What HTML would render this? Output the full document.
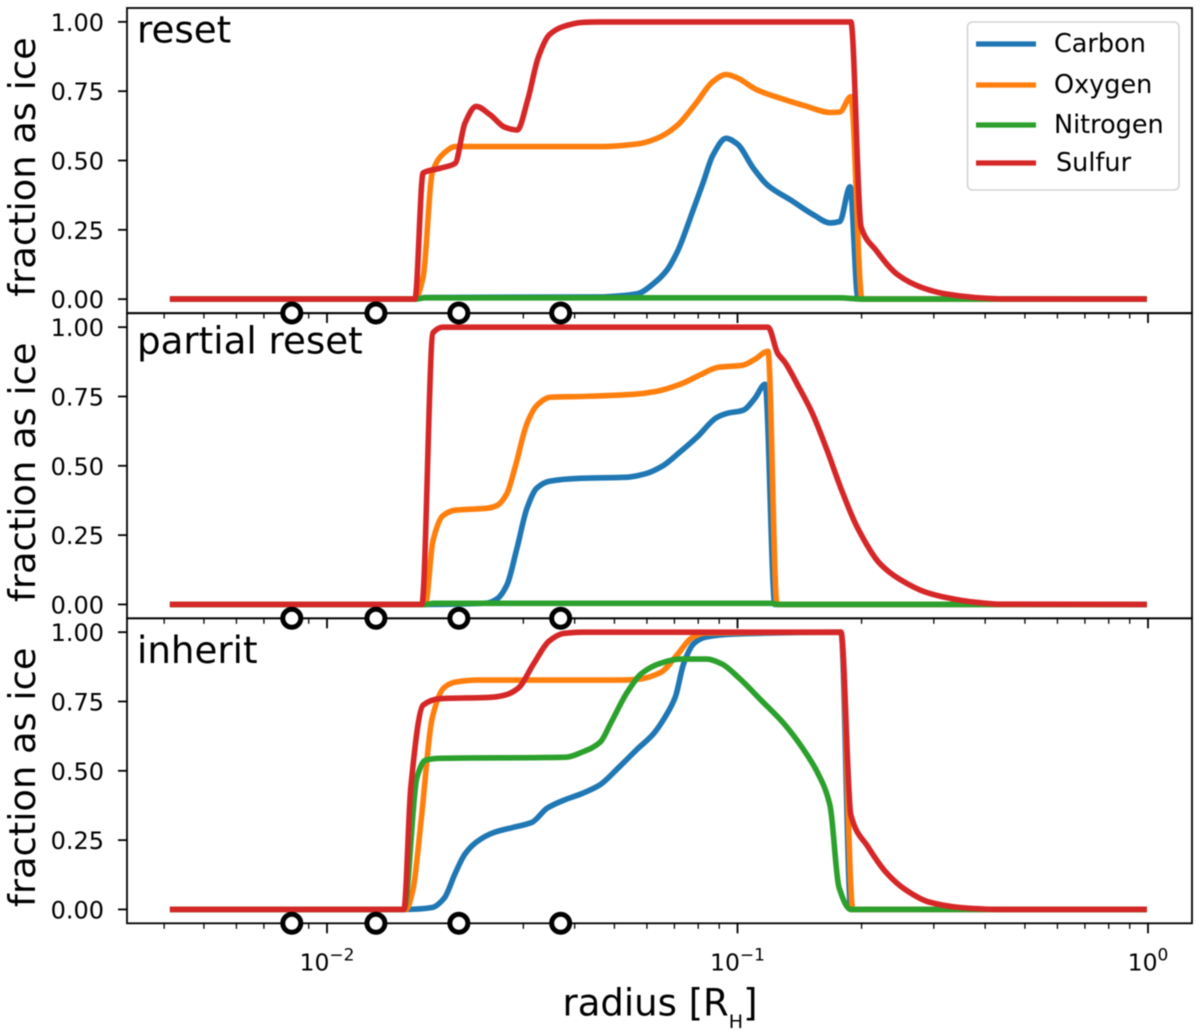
<!DOCTYPE html>
<html lang="en">
<head>
<meta charset="utf-8">
<title>Fraction as ice vs radius</title>
<style>
html,body{margin:0;padding:0;background:#fff;}
svg{display:block;filter:blur(0.45px);}
text{font-family:"DejaVu Sans","Liberation Sans",sans-serif;fill:#000;}
</style>
</head>
<body>
<svg id="chart" xmlns="http://www.w3.org/2000/svg" width="1200" height="1034" viewBox="0 0 1200 1034"></svg>
<script>
// x values are log10(radius / R_H); y values are the fraction as ice.
const panelNames = ['reset', 'partial reset', 'inherit'];
const seriesNames = ['Carbon', 'Oxygen', 'Nitrogen', 'Sulfur'];
const seriesColors = ['#1f77b4', '#ff7f0e', '#2ca02c', '#d62728'];
const yTickValues = [0, 0.25, 0.5, 0.75, 1];
const yTickLabels = ['0.00', '0.25', '0.50', '0.75', '1.00'];
const xDecades = [-2, -1, 0];
const xDecadeLabels = ['\u22122', '\u22121', '0'];
const markerLogRadius = [-2.087, -1.882, -1.680, -1.432];
const markerValue = -0.05;

const resetCarbonX = [-2.384,-1.787,-1.762,-1.336,-1.287,-1.244,-1.205,-1.173,-1.146,-1.112,-1.085,-1.061,-1.029,-1.002,-0.963,-0.927,-0.871,-0.815,-0.776,-0.752,-0.727,-0.708,-0.698,-0.004];
const resetCarbonY = [0,0,0.006,0.008,0.012,0.02,0.057,0.105,0.177,0.31,0.42,0.52,0.58,0.56,0.473,0.41,0.357,0.303,0.275,0.28,0.405,0.005,0,0];
const resetOxygenX = [-2.384,-1.787,-1.767,-1.745,-1.716,-1.689,-1.336,-1.244,-1.197,-1.149,-1.102,-1.061,-1.029,-1.005,-0.954,-0.898,-0.832,-0.776,-0.752,-0.725,-0.698,-0.004];
const resetOxygenY = [0,0,0.08,0.455,0.527,0.55,0.55,0.56,0.58,0.625,0.707,0.785,0.81,0.80,0.755,0.725,0.695,0.673,0.675,0.73,0,0];
const resetNitrogenX = [-2.384,-1.787,-1.762,-0.752,-0.698,-0.004];
const resetNitrogenY = [0,0,0.005,0.005,0,0];
const resetSulfurX = [-2.384,-1.787,-1.767,-1.726,-1.689,-1.665,-1.638,-1.604,-1.568,-1.538,-1.512,-1.487,-1.460,-1.426,-1.380,-1.336,-0.725,-0.700,-0.664,-0.610,-0.554,-0.498,-0.423,-0.357,-0.004];
const resetSulfurY = [0,0,0.455,0.472,0.49,0.635,0.695,0.665,0.62,0.61,0.72,0.87,0.953,0.983,0.998,1,1,0.26,0.177,0.087,0.043,0.02,0.006,0.001,0];

const partialCarbonX = [-2.384,-1.762,-1.611,-1.587,-1.563,-1.538,-1.514,-1.490,-1.458,-1.385,-1.270,-1.222,-1.183,-1.141,-1.100,-1.051,-1.024,-0.988,-0.959,-0.934,-0.910,-0.004];
const partialCarbonY = [0,0,0.005,0.02,0.07,0.206,0.347,0.42,0.445,0.455,0.459,0.473,0.50,0.55,0.603,0.675,0.69,0.70,0.743,0.794,0,0];
const partialOxygenX = [-2.384,-1.762,-1.743,-1.719,-1.689,-1.611,-1.587,-1.563,-1.543,-1.514,-1.490,-1.458,-1.385,-1.256,-1.197,-1.141,-1.093,-1.049,-0.988,-0.959,-0.927,-0.905,-0.004];
const partialOxygenY = [0,0,0.23,0.32,0.34,0.347,0.357,0.40,0.495,0.653,0.718,0.747,0.75,0.758,0.769,0.794,0.827,0.855,0.863,0.884,0.913,0,0];
const partialNitrogenX = [-2.384,-1.762,-1.74,-0.92,-0.90,-0.004];
const partialNitrogenY = [0,0,0.004,0.004,0,0];
const partialSulfurX = [-2.384,-1.770,-1.743,-1.719,-0.927,-0.903,-0.886,-0.854,-0.820,-0.783,-0.747,-0.710,-0.654,-0.605,-0.544,-0.484,-0.423,-0.362,-0.004];
const partialSulfurY = [0,0,0.98,1,1,0.905,0.874,0.79,0.693,0.556,0.41,0.28,0.147,0.09,0.045,0.022,0.008,0.001,0];

const inheritCarbonX = [-2.384,-1.809,-1.745,-1.716,-1.689,-1.665,-1.638,-1.594,-1.548,-1.502,-1.465,-1.426,-1.380,-1.336,-1.290,-1.244,-1.205,-1.178,-1.153,-1.132,-1.107,-1.080,-1.010,-0.749,-0.725,-0.004];
const inheritCarbonY = [0,0,0.007,0.04,0.13,0.20,0.242,0.278,0.296,0.314,0.365,0.393,0.418,0.45,0.513,0.58,0.635,0.693,0.765,0.888,0.96,0.982,0.993,1,0,0];
const inheritOxygenX = [-2.384,-1.809,-1.792,-1.772,-1.745,-1.716,-1.689,-1.633,-1.290,-1.244,-1.188,-1.149,-1.112,-1.080,-0.749,-0.720,-0.004];
const inheritOxygenY = [0,0,0.07,0.32,0.69,0.80,0.82,0.827,0.827,0.83,0.855,0.917,0.98,0.997,1,0,0];
const inheritNitrogenX = [-2.384,-1.814,-1.782,-1.762,-1.726,-1.419,-1.380,-1.336,-1.309,-1.270,-1.234,-1.188,-1.141,-1.076,-1.039,-1,-0.944,-0.888,-0.842,-0.805,-0.776,-0.754,-0.725,-0.004];
const inheritNitrogenY = [0,0,0.477,0.538,0.545,0.549,0.567,0.603,0.675,0.783,0.852,0.888,0.903,0.903,0.885,0.838,0.755,0.67,0.58,0.49,0.375,0.08,0,0];
const inheritSulfurX = [-2.384,-1.814,-1.797,-1.767,-1.726,-1.604,-1.568,-1.536,-1.497,-1.460,-1.426,-1.380,-0.749,-0.725,-0.683,-0.637,-0.591,-0.535,-0.459,-0.367,-0.004];
const inheritSulfurY = [0,0,0.44,0.737,0.76,0.765,0.773,0.797,0.888,0.968,0.995,1,1,0.34,0.225,0.13,0.07,0.027,0.007,0,0];

const panelSeriesX = [
  [resetCarbonX, resetOxygenX, resetNitrogenX, resetSulfurX],
  [partialCarbonX, partialOxygenX, partialNitrogenX, partialSulfurX],
  [inheritCarbonX, inheritOxygenX, inheritNitrogenX, inheritSulfurX]
];
const panelSeriesY = [
  [resetCarbonY, resetOxygenY, resetNitrogenY, resetSulfurY],
  [partialCarbonY, partialOxygenY, partialNitrogenY, partialSulfurY],
  [inheritCarbonY, inheritOxygenY, inheritNitrogenY, inheritSulfurY]
];

const NS = 'http://www.w3.org/2000/svg';
const svg = document.getElementById('chart');
const PLOT_LEFT = 127;
const PLOT_RIGHT = 1192;
const PANEL_TOPS = [8, 313.3, 618.3];
const PANEL_H = 305;
const LABEL_BASE = [42.5, 353.5, 663];

function xScale(logR) { return 738 + 410.5 * (logR + 1); }
function yScale(panel, v) { return PANEL_TOPS[panel] + (1.05 - v) * PANEL_H / 1.1; }
function slug(s) { return s.toLowerCase().replace(/\s+/g, '-'); }
function make(tag, attrs, parent) {
  const el = document.createElementNS(NS, tag);
  for (const k in attrs) el.setAttribute(k, attrs[k]);
  (parent || svg).appendChild(el);
  return el;
}

// Monotone cubic path through the given pixel points: smooth plateaus, no overshoot.
function monotonePath(px, py) {
  const n = px.length;
  const h = [];
  const m = [];
  for (let i = 0; i < n - 1; i++) {
    h.push(px[i + 1] - px[i]);
    m.push((py[i + 1] - py[i]) / h[i]);
  }
  const t = [m[0]];
  for (let i = 1; i < n - 1; i++) {
    if (m[i - 1] * m[i] <= 0) {
      t.push(0);
    } else {
      const w1 = 2 * h[i] + h[i - 1];
      const w2 = h[i] + 2 * h[i - 1];
      t.push((w1 + w2) / (w1 / m[i - 1] + w2 / m[i]));
    }
  }
  t.push(m[n - 2]);
  let d = 'M' + px[0].toFixed(1) + ' ' + py[0].toFixed(1);
  for (let i = 0; i < n - 1; i++) {
    const c1x = px[i] + h[i] / 3;
    const c1y = py[i] + t[i] * h[i] / 3;
    const c2x = px[i + 1] - h[i] / 3;
    const c2y = py[i + 1] - t[i + 1] * h[i] / 3;
    d += 'C' + c1x.toFixed(1) + ' ' + c1y.toFixed(1) + ' ' + c2x.toFixed(1) + ' ' + c2y.toFixed(1) + ' ' + px[i + 1].toFixed(1) + ' ' + py[i + 1].toFixed(1);
  }
  return d;
}

const minorMultipliers = [2, 3, 4, 5, 6, 7, 8, 9];

panelNames.forEach(function (name, p) {
  const g = make('g', {});
  
  
  const top = PANEL_TOPS[p];
  const bottom = top + PANEL_H;

  // x ticks
  const tickGroup = make('g', { stroke: '#000' }, g);
  
  
  [-3, -2, -1].forEach(function (d) {
    minorMultipliers.forEach(function (m) {
      const lr = d + Math.log10(m);
      const px = xScale(lr);
      if (px < PLOT_LEFT) return;
      make('line', { x1: px, x2: px, y1: bottom, y2: bottom + 5.5, 'stroke-width': 1.3 }, tickGroup);
    });
  });
  xDecades.forEach(function (d) {
    const px = xScale(d) - 0.5;
    make('line', { x1: px, x2: px, y1: bottom, y2: bottom + 10, 'stroke-width': 1.8 }, tickGroup);
  });

  // y ticks and labels
  yTickValues.forEach(function (v, i) {
    const py = yScale(p, v);
    const t = make('line', { x1: PLOT_LEFT - 9, x2: PLOT_LEFT, y1: py, y2: py, stroke: '#000', 'stroke-width': 1.8 }, g);
    
    
    const lab = make('text', { x: 104, y: py + 9, 'text-anchor': 'end', 'font-size': 24 }, g);
    
    
    lab.textContent = yTickLabels[i];
  });

  // y axis title
  const cy = top + 159;
  const yt = make('text', { x: 0, y: 0, 'text-anchor': 'middle', 'font-size': 36.8, transform: 'translate(35,' + cy + ') rotate(-90)' }, g);
  
  
  yt.textContent = 'fraction as ice';

  // series
  seriesNames.forEach(function (sn, s) {
    const xs = panelSeriesX[p][s].map(xScale);
    const ys = panelSeriesY[p][s].map(function (v) { return yScale(p, v); });
    const path = make('path', { d: monotonePath(xs, ys), fill: 'none', stroke: seriesColors[s], 'stroke-width': 5.6, 'stroke-linejoin': 'round' }, g);
    
    
  });

  // spines
  const frame = make('rect', { x: PLOT_LEFT, y: top, width: PLOT_RIGHT - PLOT_LEFT, height: PANEL_H, fill: 'none', stroke: '#000', 'stroke-width': 1.8 }, g);
  
  

  // panel title
  const lbl = make('text', { x: 137, y: LABEL_BASE[p], 'font-size': 37.2 }, g);
  
  
  lbl.textContent = name;
});

// markers are drawn last so they sit over the shared axis lines
panelNames.forEach(function (name, p) {
  markerLogRadius.forEach(function (lr) {
    const c = make('circle', { cx: xScale(lr), cy: yScale(p, markerValue), r: 9, fill: '#fff', stroke: '#000', 'stroke-width': 5 });
    
    
  });
});

// x tick labels
xDecades.forEach(function (d, i) {
  const t = make('text', { x: xScale(d) - 0.5, y: 970.5, 'text-anchor': 'middle', 'font-size': 23.5 });
  
  
  const base = make('tspan', {}, t);
  base.textContent = '10';
  const exp = make('tspan', { dy: -10, 'font-size': 17 }, t);
  exp.textContent = xDecadeLabels[i];
});

// x axis title
const xTitle = make('text', { x: 660, y: 1015.5, 'text-anchor': 'middle', 'font-size': 37 });


const xt1 = make('tspan', {}, xTitle);
xt1.textContent = 'radius [R';
const xt2 = make('tspan', { dy: 12.5, 'font-size': 19 }, xTitle);
xt2.textContent = 'H';
const xt3 = make('tspan', { dy: -12.5 }, xTitle);
xt3.textContent = ']';

// legend
const legend = make('g', {});


const legendBox = make('rect', { x: 967.5, y: 22, width: 211.5, height: 168, rx: 5, fill: '#fff', 'fill-opacity': 0.85, stroke: '#d4d4d4', 'stroke-width': 1.6 }, legend);


const legendRowY = [44, 85, 125, 163];
const legendTextX = [1054, 1054, 1054, 1056];
seriesNames.forEach(function (sn, s) {
  const h = make('line', { x1: 976, x2: 1036, y1: legendRowY[s], y2: legendRowY[s], stroke: seriesColors[s], 'stroke-width': 5.2 }, legend);
  
  
  const t = make('text', { x: legendTextX[s], y: legendRowY[s] + 8, 'font-size': 25.5 }, legend);
  
  
  t.textContent = sn;
});
</script>
</body>
</html>
